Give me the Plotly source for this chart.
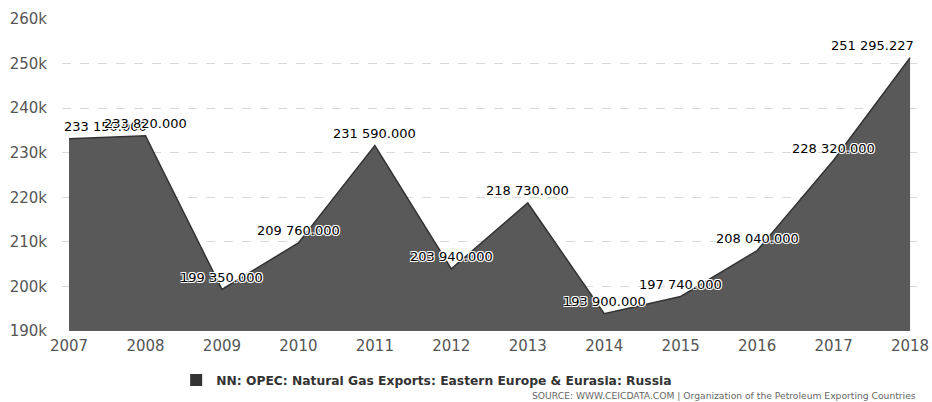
import plotly.graph_objects as go

years = [2007, 2008, 2009, 2010, 2011, 2012, 2013, 2014, 2015, 2016, 2017, 2018]
values = [233150.0, 233820.0, 199350.0, 209760.0, 231590.0, 203940.0,
          218730.0, 193900.0, 197740.0, 208040.0, 228320.0, 251295.227]
series_name = "NN: OPEC: Natural Gas Exports: Eastern Europe & Eurasia: Russia"
source_text = "SOURCE: WWW.CEICDATA.COM | Organization of the Petroleum Exporting Countries"


def fmt(v):
    s = f"{v:,.3f}"
    return s.replace(",", " ")


labels = [fmt(v) for v in values]

fig = go.Figure()
fig.add_trace(go.Scatter(
    x=years, y=values, mode="lines", fill="tozeroy",
    fillcolor="#595959", line=dict(color="#333333", width=1.5),
    showlegend=False, hoverinfo="skip",
))
fig.add_trace(go.Scatter(
    x=[None], y=[None], mode="markers", name="<b>" + series_name + "</b>",
    marker=dict(symbol="square", size=16, color="#333333"),
    showlegend=True,
))

halo = "1px 1px 0px #fff, -1px -1px 0px #fff, 1px -1px 0px #fff, -1px 1px 0px #fff"
annotations = []
n = len(years)
for i, (yr, v, lab) in enumerate(zip(years, values, labels)):
    anchor, xs = "center", 0
    if i == 0:
        anchor, xs = "left", -7
    elif i == n - 1:
        anchor, xs = "right", 6
    annotations.append(dict(
        x=yr, y=v, xref="x", yref="y", text=lab, showarrow=False,
        xanchor=anchor, yanchor="middle", xshift=xs, yshift=12,
        font=dict(family="DejaVu Sans", size=13, color="#000000", shadow=halo),
    ))
annotations.append(dict(text=source_text, xref="paper", yref="paper", x=0.9977, y=-0.208,
                        xanchor="right", yanchor="middle", showarrow=False,
                        font=dict(size=9.2, color="#666666")))

fig.update_layout(
    width=932, height=402,
    margin=dict(l=62, r=12, t=19, b=71, autoexpand=False),
    paper_bgcolor="white", plot_bgcolor="white",
    font=dict(family="DejaVu Sans", color="#666666"),
    xaxis=dict(range=[2006.908, 2018.13], tickvals=years, ticktext=[str(y) for y in years],
               showgrid=False, zeroline=False, showline=False, ticks="", automargin=False,
               tickfont=dict(size=15, color="#555555"), ticklabelstandoff=4),
    yaxis=dict(range=[190000, 260000], dtick=10000, tickformat="~s",
               showgrid=True, gridcolor="#d9d9d9", griddash="dash", gridwidth=1,
               zeroline=False, showline=False, ticks="", automargin=False,
               tickfont=dict(size=15, color="#555555"), ticklabelstandoff=14),
    legend=dict(orientation="h", x=0.425, xanchor="center", y=-0.157, yanchor="middle",
                font=dict(size=12.3, color="#333333", family="DejaVu Sans"),
                itemsizing="constant"),
    annotations=annotations,
)

fig.write_html(
    "out.html",
    config={"displayModeBar": False},
    post_script="document.body.style.margin='0';document.body.style.overflow='hidden';",
)
